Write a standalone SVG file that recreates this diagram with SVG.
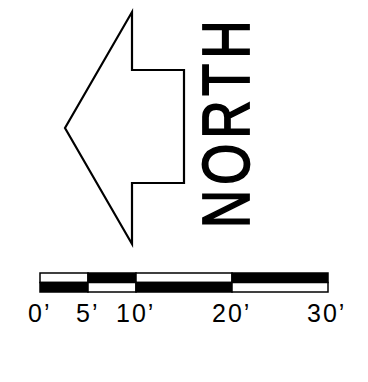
<svg xmlns="http://www.w3.org/2000/svg" width="368" height="382" viewBox="0 0 368 382">
<style>
.ln{fill:none;stroke:#000;stroke-width:2.2;stroke-linejoin:miter}
.w{fill:#fff;stroke:#000;stroke-width:1.5}
.b{fill:#000;stroke:#000;stroke-width:1.5}
.lbl{font-family:"Liberation Sans",Arial,sans-serif;font-size:25px;fill:#000;letter-spacing:2px}
.nl{font-family:"Liberation Sans",Arial,sans-serif;font-size:66px;fill:#000;stroke:#000;stroke-width:1.8;letter-spacing:6.5px}
</style>
<rect width="368" height="382" fill="#fff"/>
<g id="arrow">
<polygon class="ln" points="132,12 132,70 184,70 184,183 132,183 132,244 65,128"/>
</g>
<g id="north-label">
<text class="nl" transform="translate(249,228) rotate(-90) scale(0.8,1)" x="0" y="0">NORTH</text>
</g>
<g id="scale-bar">
<rect class="w" x="40" y="273" width="48" height="9.5"/>
<rect class="b" x="88" y="273" width="48" height="9.5"/>
<rect class="w" x="136" y="273" width="96" height="9.5"/>
<rect class="b" x="232" y="273" width="96" height="9.5"/>
<rect class="b" x="40" y="282.5" width="48" height="9.5"/>
<rect class="w" x="88" y="282.5" width="48" height="9.5"/>
<rect class="b" x="136" y="282.5" width="96" height="9.5"/>
<rect class="w" x="232" y="282.5" width="96" height="9.5"/>
</g>
<g id="scale-labels">
<text class="lbl" x="28" y="322">0’</text>
<text class="lbl" x="76" y="322">5’</text>
<text class="lbl" x="116" y="322">10’</text>
<text class="lbl" x="212" y="322">20’</text>
<text class="lbl" x="307" y="322">30’</text>
</g>
</svg>
